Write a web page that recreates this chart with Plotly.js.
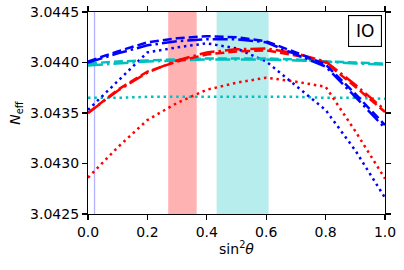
<!DOCTYPE html>
<html>
<head>
<meta charset="utf-8">
<script src="https://cdn.plot.ly/plotly-3.0.1.min.js"></script>
<style>html,body{margin:0;padding:0;background:#fff;}#plot{width:404px;height:270px;}</style>
</head>
<body>
<div id="plot"></div>
<script>
// sin^2(theta) grid
const sin2theta = [0.0, 0.1, 0.2, 0.3, 0.4, 0.5, 0.6, 0.7, 0.8, 0.9, 1.0];

// N_eff curves
const blueDashed   = [3.04401, 3.04411, 3.04420, 3.04424, 3.04426, 3.04425, 3.04421, 3.04410, 3.04398, 3.04369, 3.04338];
const blueDashDot  = [3.04400, 3.04409, 3.04417, 3.04421, 3.04423, 3.04423, 3.04420, 3.04408, 3.04396, 3.04366, 3.04335];
const blueDotted   = [3.04353, 3.04382, 3.04410, 3.04415, 3.04419, 3.04414, 3.04401, 3.04377, 3.04353, 3.04313, 3.04266];
const redDashed    = [3.04350, 3.04373, 3.04391, 3.04401, 3.04408, 3.04411, 3.04412, 3.04407, 3.04400, 3.04376, 3.04351];
const redDashDot   = [3.04350, 3.04372, 3.04390, 3.04402, 3.04410, 3.04413, 3.04414, 3.04409, 3.04401, 3.04378, 3.04353];
const redDotted    = [3.04286, 3.04316, 3.04343, 3.04360, 3.04373, 3.04380, 3.04385, 3.04381, 3.04376, 3.04332, 3.04285];
const cyanDashed   = [3.04399, 3.04401, 3.04402, 3.04403, 3.04404, 3.04404, 3.04404, 3.04403, 3.04401, 3.04400, 3.04399];
const cyanDashDot  = [3.04397, 3.04399, 3.04401, 3.04402, 3.04403, 3.04403, 3.04403, 3.04402, 3.04401, 3.04399, 3.04398];
const cyanDotted   = [3.04365, 3.04365, 3.04366, 3.04366, 3.04366, 3.04366, 3.04366, 3.04366, 3.04365, 3.04365, 3.04364];

// shaded ranges and marker line
const redBand = [0.270, 0.366];
const cyanBand = [0.433, 0.608];
const markerLineX = 0.022;

// ticks
const xTicks = [0.0, 0.2, 0.4, 0.6, 0.8, 1.0];
const xTickText = ["0.0", "0.2", "0.4", "0.6", "0.8", "1.0"];
const yTicks = [3.0425, 3.0430, 3.0435, 3.0440, 3.0445];
const yTickText = ["3.0425", "3.0430", "3.0435", "3.0440", "3.0445"];

const BLUE = '#0000ff', RED = '#ff0000', CYAN = '#00bfbf';
const DASH = '9px,4px', DASHDOT = '15px,4px,2.5px,4px', DOT = '2.5px,3.8px';

function tr(y, color, dash, width) {
  return {x: sin2theta, y: y, type: 'scatter', mode: 'lines',
          line: {color: color, dash: dash, width: width}, hoverinfo: 'skip', showlegend: false};
}

const data = [
  tr(cyanDotted, CYAN, DOT, 2.5),
  tr(redDotted, RED, DOT, 2.5),
  tr(blueDotted, BLUE, DOT, 2.5),
  tr(cyanDashDot, CYAN, DASHDOT, 2.5),
  tr(cyanDashed, CYAN, DASH, 2.5),
  tr(redDashDot, RED, DASHDOT, 2.5),
  tr(redDashed, RED, DASH, 2.5),
  tr(blueDashDot, BLUE, DASHDOT, 2.5),
  tr(blueDashed, BLUE, DASH, 2.5)
];

const axisCommon = {
  showgrid: false, zeroline: false, showline: true, linecolor: '#000', linewidth: 1.1,
  ticks: 'outside', ticklen: 5, tickwidth: 1.1, tickcolor: '#000', mirror: 'ticks',
  tickfont: {family: 'DejaVu Sans', size: 14, color: '#000'}
};

const layout = {
  width: 404, height: 270,
  margin: {l: 88, r: 19, t: 12, b: 56, pad: 0},
  paper_bgcolor: '#fff', plot_bgcolor: '#fff',
  font: {family: 'DejaVu Sans', color: '#000'},
  xaxis: Object.assign({}, axisCommon, {
    range: [0, 1], tickvals: xTicks, ticktext: xTickText,
    title: {text: 'sin<sup>2</sup><i>θ</i>', font: {family: 'DejaVu Sans', size: 14}, standoff: 5}
  }),
  yaxis: Object.assign({}, axisCommon, {
    range: [3.0425, 3.0445], tickvals: yTicks, ticktext: yTickText,
    title: {text: '<i>N</i><sub>eff</sub>', font: {family: 'DejaVu Sans', size: 14}, standoff: 6}
  }),
  shapes: [
    {type: 'rect', xref: 'x', yref: 'paper', x0: redBand[0], x1: redBand[1], y0: 0, y1: 1,
     fillcolor: 'rgba(255,0,0,0.3)', line: {width: 0}, layer: 'below'},
    {type: 'rect', xref: 'x', yref: 'paper', x0: cyanBand[0], x1: cyanBand[1], y0: 0, y1: 1,
     fillcolor: 'rgba(0,191,191,0.28)', line: {width: 0}, layer: 'below'},
    {type: 'line', xref: 'x', yref: 'paper', x0: markerLineX, x1: markerLineX, y0: 0, y1: 1,
     line: {color: 'rgba(0,0,255,0.3)', width: 1.3}, layer: 'below'}
  ],
  annotations: [
    {xref: 'paper', yref: 'paper', x: 0.934, y: 0.9035, xanchor: 'center', yanchor: 'middle',
     text: 'IO', showarrow: false, font: {family: 'DejaVu Sans', size: 17, color: '#000'},
     bordercolor: '#000', borderwidth: 1.1, borderpad: 4, bgcolor: '#fff', width: 24, height: 22}
  ]
};

Plotly.newPlot('plot', data, layout, {staticPlot: true, displayModeBar: false});
</script>
</body>
</html>
